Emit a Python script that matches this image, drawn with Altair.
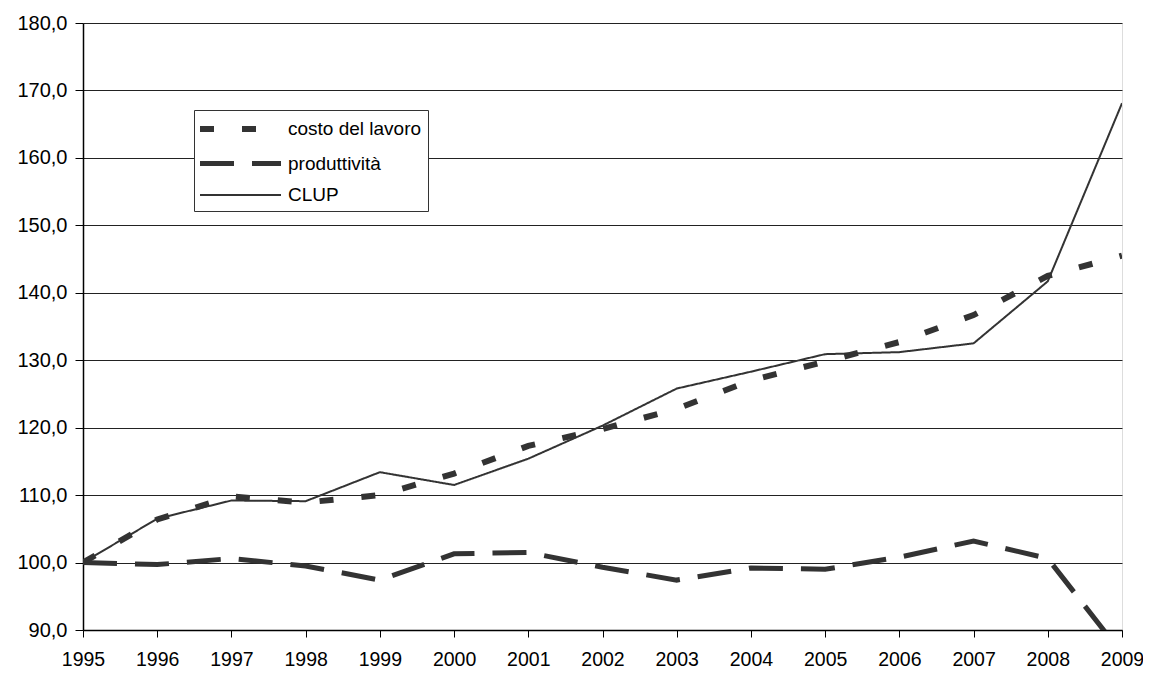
import altair as alt
import pandas as pd

years = list(range(1995, 2010))
costo = [100.0, 106.4, 109.8, 108.9, 110.0, 113.2, 117.3, 119.8, 122.8, 127.0, 129.8, 132.7, 136.7, 142.5, 145.5]
produttivita = [100.0, 99.7, 100.6, 99.5, 97.4, 101.3, 101.5, 99.3, 97.4, 99.2, 99.0, 100.8, 103.2, 100.6, 86.5]
clup = [100.0, 106.5, 109.2, 109.1, 113.4, 111.5, 115.4, 120.3, 125.8, 128.3, 130.9, 131.2, 132.5, 141.7, 168.1]
series = ["costo del lavoro", "produttività", "CLUP"]

rows = []
for name, vals in zip(series, [costo, produttivita, clup]):
    for y, v in zip(years, vals):
        rows.append({"anno": y, "valore": v, "serie": name})
df = pd.DataFrame(rows)

FONT = "Liberation Sans"
LINE = "#333333"


def legend():
    return alt.Legend(title=None, orient="none", legendX=111, legendY=87,
                      symbolType="M-1.3,0H6.8", symbolSize=400,
                      labelFontSize=19, labelFont=FONT, labelColor="black",
                      strokeColor="#333333", fillColor="white",
                      padding=6, rowPadding=10, labelOffset=62)


chart = alt.Chart(df).mark_line(clip=True, strokeCap="butt", strokeJoin="miter").encode(
    x=alt.X("anno:Q",
            scale=alt.Scale(domain=[1995, 2009], nice=False, zero=False),
            axis=alt.Axis(values=years, format="d", title=None, grid=False,
                          tickSize=7, tickColor="black", domainColor="black",
                          domainWidth=1.5, labelFlush=False,
                          labelFontSize=19.5, labelColor="black", labelPadding=13,
                          labelFont=FONT)),
    y=alt.Y("valore:Q",
            scale=alt.Scale(domain=[90, 180], nice=False, zero=False),
            axis=alt.Axis(values=list(range(90, 181, 10)), title=None,
                          labelExpr="replace(format(datum.value, '.1f'), '.', ',')",
                          tickSize=8, tickColor="black", domainColor="black",
                          domainWidth=1.5,
                          gridColor="#222222", gridWidth=1, gridOpacity=1,
                          labelFontSize=20, labelColor="black", labelPadding=8,
                          labelFont=FONT)),
    color=alt.Color("serie:N",
                    scale=alt.Scale(domain=series, range=[LINE, LINE, LINE]),
                    legend=legend()),
    strokeDash=alt.StrokeDash("serie:N",
                              scale=alt.Scale(domain=series,
                                              range=[[14, 28], [34, 18], [1, 0]]),
                              legend=legend()),
    strokeWidth=alt.StrokeWidth("serie:N",
                                scale=alt.Scale(type="ordinal", domain=series, range=[6, 5, 2]),
                                legend=legend()),
).properties(
    width=1039,
    height=607,
    autosize=alt.AutoSizeParams(type="none"),
    padding={"left": 75, "top": 15, "right": 21, "bottom": 44},
).configure_view(
    stroke="#888888", strokeWidth=1.5
).configure(background="white")

chart.save("out.html", embed_options={"renderer": "svg", "actions": False})
